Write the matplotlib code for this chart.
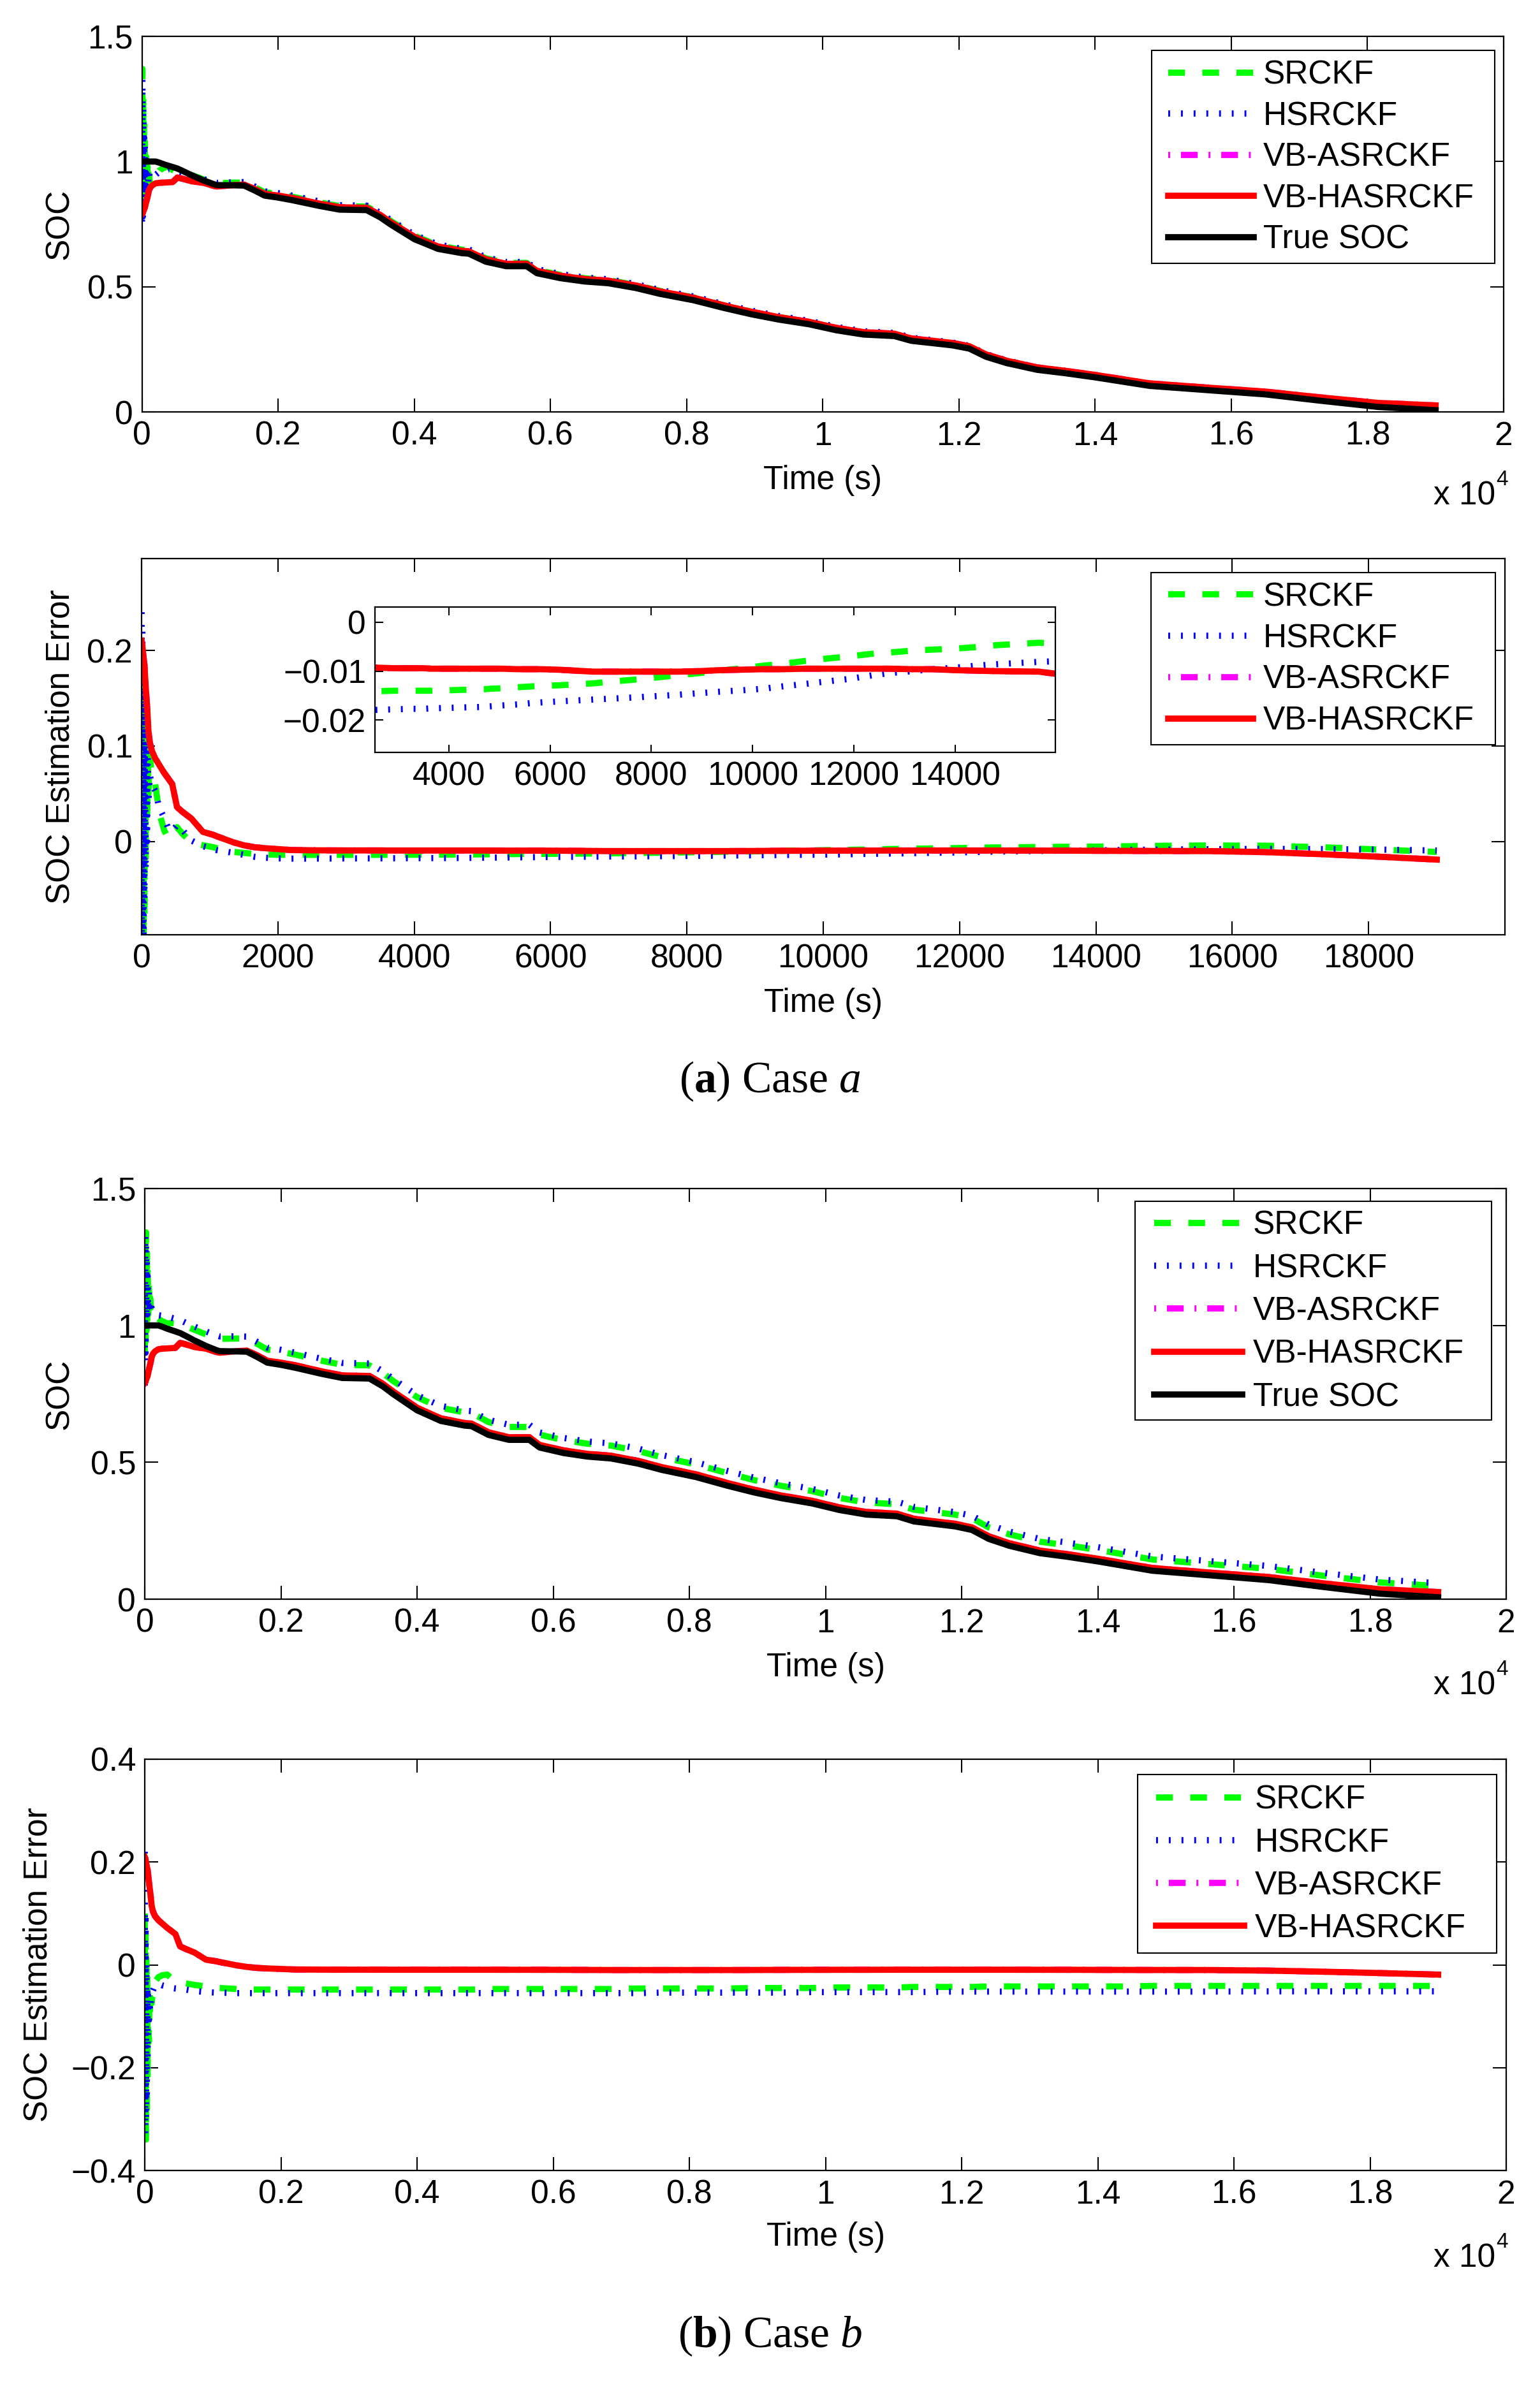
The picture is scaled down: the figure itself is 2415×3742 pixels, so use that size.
import matplotlib
matplotlib.use("Agg")
import matplotlib.pyplot as plt
from matplotlib.patches import Rectangle

plt.rcParams['font.family'] = ['Liberation Sans', 'DejaVu Sans']
plt.rcParams['mathtext.fontset'] = 'custom'
plt.rcParams['mathtext.rm'] = 'Liberation Serif'
plt.rcParams['mathtext.bf'] = 'Liberation Serif:bold'
plt.rcParams['mathtext.it'] = 'Liberation Serif:italic'

# ---------------- data ----------------
t = [0, 6, 12, 18, 24, 30, 36, 42, 50, 60,
     70, 80, 90, 100, 120, 150, 200, 260, 330, 390,
     450, 520, 600, 730, 900, 1050, 1100, 1350, 1500, 1650,
     1800, 2000, 2200, 2600, 2900, 3300, 3500, 3650, 4000, 4350,
     4700, 4800, 5050, 5350, 5650, 5800, 6150, 6500, 6850, 7250,
     7600, 8100, 8550, 8950, 9350, 9800, 10200, 10600, 11050, 11300,
     11900, 12150, 12400, 12700, 13150, 13550, 14000, 14400, 14800, 15650,
     16500, 17300, 18150, 19000]

soc_true = [1.000, 1.000, 1.000, 1.000, 1.000, 1.000, 1.000, 1.000, 1.000, 1.000,
            1.000, 1.000, 1.000, 1.000, 1.000, 1.000, 1.000, 0.995, 0.988, 0.983,
            0.978, 0.972, 0.962, 0.945, 0.925, 0.910, 0.906, 0.905, 0.904, 0.885,
            0.864, 0.856, 0.846, 0.823, 0.808, 0.806, 0.777, 0.749, 0.690, 0.651,
            0.634, 0.632, 0.600, 0.582, 0.582, 0.554, 0.534, 0.521, 0.514, 0.495,
            0.472, 0.446, 0.415, 0.390, 0.369, 0.350, 0.326, 0.309, 0.303, 0.284,
            0.266, 0.253, 0.220, 0.195, 0.168, 0.155, 0.138, 0.121, 0.104, 0.087,
            0.070, 0.045, 0.020, 0.007]

# VB-HASRCKF (same in both cases); VB-ASRCKF lies underneath it
soc_vbhasrckf = [0.790, 0.792, 0.795, 0.800, 0.804, 0.808, 0.812, 0.815, 0.825, 0.837,
                 0.848, 0.858, 0.870, 0.884, 0.896, 0.905, 0.913, 0.915, 0.916, 0.917,
                 0.918, 0.936, 0.931, 0.921, 0.915, 0.903, 0.9005, 0.906, 0.908, 0.891,
                 0.871, 0.864, 0.855, 0.8323, 0.8174, 0.8154, 0.7864, 0.7585, 0.6995, 0.6605,
                 0.6435, 0.6415, 0.6095, 0.5916, 0.5916, 0.5636, 0.5437, 0.5309, 0.5241, 0.5051,
                 0.4821, 0.4561, 0.4251, 0.4000, 0.3788, 0.3597, 0.3356, 0.3186, 0.3125, 0.2935,
                 0.2755, 0.2625, 0.2295, 0.2045, 0.1776, 0.1646, 0.1478, 0.1309, 0.1140, 0.0971,
                 0.0812, 0.0583, 0.0360, 0.0260]
err_vbhasrckf = [0.210, 0.208, 0.205, 0.200, 0.196, 0.192, 0.188, 0.185, 0.175, 0.163,
                 0.152, 0.142, 0.130, 0.116, 0.104, 0.095, 0.087, 0.080, 0.072, 0.066,
                 0.060, 0.036, 0.031, 0.024, 0.010, 0.007, 0.0055, -0.001, -0.004, -0.006,
                 -0.007, -0.008, -0.009, -0.0093, -0.0094, -0.0094, -0.0094, -0.0095, -0.0095, -0.0095,
                 -0.0095, -0.0095, -0.0095, -0.0096, -0.0096, -0.0096, -0.0097, -0.0099, -0.0101, -0.0101,
                 -0.0101, -0.0101, -0.0101, -0.0100, -0.0098, -0.0097, -0.0096, -0.0096, -0.0095, -0.0095,
                 -0.0095, -0.0095, -0.0095, -0.0095, -0.0096, -0.0096, -0.0098, -0.0099, -0.0100, -0.0101,
                 -0.0112, -0.0133, -0.0160, -0.0190]
soc_vbasrckf = soc_vbhasrckf
err_vbasrckf = err_vbhasrckf

# Case a
soc_srckf_a = [0.80, 1.37, 0.88, 1.25, 0.80, 1.15, 0.84, 1.08, 0.86, 1.02,
               0.87, 0.98, 0.89, 0.95, 0.91, 0.93, 0.94, 0.965, 0.976, 0.980,
               0.966, 0.957, 0.954, 0.946, 0.929, 0.916, 0.913, 0.916, 0.916, 0.898,
               0.8775, 0.870, 0.860, 0.8371, 0.822, 0.820, 0.791, 0.763, 0.7039, 0.6648,
               0.6477, 0.6456, 0.6135, 0.5953, 0.5951, 0.567, 0.5469, 0.5337, 0.5265, 0.5071,
               0.4838, 0.4573, 0.4258, 0.4004, 0.3789, 0.3594, 0.3349, 0.3175, 0.3109, 0.2916,
               0.2730, 0.2597, 0.2264, 0.2012, 0.1738, 0.1606, 0.1434, 0.1261, 0.1087, 0.0912,
               0.0745, 0.0510, 0.0285, 0.0180]
err_srckf_a = [0.20, -0.37, 0.12, -0.25, 0.20, -0.15, 0.16, -0.08, 0.14, -0.02,
               0.13, 0.02, 0.11, 0.05, 0.09, 0.07, 0.06, 0.03, 0.012, 0.003,
               0.012, 0.015, 0.008, -0.001, -0.004, -0.006, -0.007, -0.011, -0.012, -0.013,
               -0.0135, -0.014, -0.014, -0.0141, -0.0140, -0.0140, -0.0140, -0.0140, -0.0139, -0.0138,
               -0.0137, -0.0136, -0.0135, -0.0133, -0.0131, -0.0130, -0.0129, -0.0127, -0.0125, -0.0121,
               -0.0118, -0.0113, -0.0108, -0.0104, -0.0099, -0.0094, -0.0089, -0.0085, -0.0079, -0.0076,
               -0.0070, -0.0067, -0.0064, -0.0062, -0.0058, -0.0056, -0.0054, -0.0051, -0.0047, -0.0042,
               -0.0045, -0.0060, -0.0085, -0.0110]
soc_hsrckf_a = [0.76, 1.33, 0.78, 1.22, 0.82, 1.12, 0.85, 1.06, 0.88, 1.03,
                0.90, 1.00, 0.91, 0.96, 0.93, 0.94, 0.947, 0.960, 0.963, 0.969,
                0.967, 0.955, 0.950, 0.944, 0.930, 0.918, 0.915, 0.917, 0.918, 0.901,
                0.881, 0.8737, 0.864, 0.8409, 0.8258, 0.8237, 0.7947, 0.7666, 0.7075, 0.6684,
                0.6513, 0.6492, 0.6170, 0.5988, 0.5985, 0.5704, 0.5502, 0.5370, 0.5298, 0.5106,
                0.4874, 0.4611, 0.4298, 0.4045, 0.3832, 0.3639, 0.3396, 0.3221, 0.3156, 0.2963,
                0.2776, 0.2642, 0.2308, 0.2054, 0.1780, 0.1646, 0.1473, 0.1299, 0.1126, 0.0951,
                0.0778, 0.0530, 0.0285, 0.0165]
err_hsrckf_a = [0.24, -0.33, 0.22, -0.22, 0.18, -0.12, 0.15, -0.06, 0.12, -0.03,
                0.10, 0.00, 0.09, 0.04, 0.07, 0.06, 0.053, 0.035, 0.025, 0.014,
                0.011, 0.017, 0.012, 0.001, -0.005, -0.008, -0.009, -0.012, -0.014, -0.016,
                -0.017, -0.0177, -0.018, -0.0179, -0.0178, -0.0177, -0.0177, -0.0176, -0.0175, -0.0174,
                -0.0173, -0.0172, -0.0170, -0.0168, -0.0165, -0.0164, -0.0162, -0.0160, -0.0158, -0.0156,
                -0.0154, -0.0151, -0.0148, -0.0145, -0.0142, -0.0139, -0.0136, -0.0131, -0.0126, -0.0123,
                -0.0116, -0.0112, -0.0108, -0.0104, -0.0100, -0.0096, -0.0093, -0.0089, -0.0086, -0.0081,
                -0.0078, -0.0080, -0.0085, -0.0095]

# Case b
soc_srckf_b = [0.90, 1.30, 0.94, 1.34, 0.98, 1.30, 1.02, 1.22, 1.04, 1.15,
               1.05, 1.10, 1.065, 1.075, 1.05, 1.033, 1.024, 1.015, 1.007, 1.009,
               1.008, 1.006, 0.998, 0.984, 0.967, 0.954, 0.951, 0.952, 0.952, 0.933,
               0.912, 0.904, 0.894, 0.871, 0.856, 0.854, 0.825, 0.797, 0.738, 0.699,
               0.682, 0.680, 0.647, 0.629, 0.629, 0.601, 0.581, 0.568, 0.561, 0.541,
               0.518, 0.492, 0.461, 0.435, 0.414, 0.395, 0.370, 0.353, 0.347, 0.327,
               0.309, 0.296, 0.262, 0.237, 0.210, 0.197, 0.180, 0.163, 0.145, 0.128,
               0.111, 0.086, 0.061, 0.048]
err_srckf_b = [0.10, -0.30, 0.06, -0.34, 0.02, -0.30, -0.02, -0.22, -0.04, -0.15,
               -0.05, -0.10, -0.065, -0.075, -0.05, -0.033, -0.024, -0.020, -0.019, -0.026,
               -0.030, -0.034, -0.036, -0.039, -0.042, -0.044, -0.045, -0.047, -0.048, -0.048,
               -0.048, -0.048, -0.048, -0.048, -0.048, -0.048, -0.048, -0.048, -0.048, -0.048,
               -0.048, -0.048, -0.047, -0.047, -0.047, -0.047, -0.047, -0.047, -0.047, -0.046,
               -0.046, -0.046, -0.046, -0.045, -0.045, -0.045, -0.044, -0.044, -0.044, -0.043,
               -0.043, -0.043, -0.042, -0.042, -0.042, -0.042, -0.042, -0.042, -0.041, -0.041,
               -0.041, -0.041, -0.041, -0.041]
soc_hsrckf_b = [0.78, 1.33, 0.90, 1.30, 1.00, 1.25, 1.04, 1.18, 1.06, 1.12,
                1.07, 1.09, 1.07, 1.065, 1.05, 1.04, 1.037, 1.035, 1.030, 1.028,
                1.024, 1.019, 1.010, 0.996, 0.978, 0.964, 0.960, 0.960, 0.959, 0.940,
                0.919, 0.911, 0.901, 0.878, 0.863, 0.861, 0.832, 0.804, 0.745, 0.706,
                0.689, 0.687, 0.655, 0.637, 0.637, 0.609, 0.589, 0.576, 0.569, 0.550,
                0.526, 0.500, 0.469, 0.444, 0.423, 0.403, 0.379, 0.362, 0.356, 0.337,
                0.318, 0.305, 0.272, 0.247, 0.220, 0.207, 0.190, 0.173, 0.156, 0.139,
                0.1215, 0.0965, 0.0715, 0.0585]
err_hsrckf_b = [0.22, -0.33, 0.10, -0.30, 0.00, -0.25, -0.04, -0.18, -0.06, -0.12,
                -0.07, -0.09, -0.07, -0.065, -0.05, -0.04, -0.037, -0.040, -0.042, -0.045,
                -0.046, -0.047, -0.048, -0.051, -0.053, -0.054, -0.054, -0.055, -0.055, -0.055,
                -0.055, -0.055, -0.055, -0.055, -0.055, -0.055, -0.055, -0.055, -0.055, -0.055,
                -0.055, -0.055, -0.055, -0.055, -0.055, -0.055, -0.055, -0.055, -0.055, -0.055,
                -0.054, -0.054, -0.054, -0.054, -0.054, -0.053, -0.053, -0.053, -0.053, -0.053,
                -0.052, -0.052, -0.052, -0.052, -0.052, -0.052, -0.052, -0.052, -0.052, -0.052,
                -0.0515, -0.0515, -0.0515, -0.0515]

xticks_e4 = [0, 2000, 4000, 6000, 8000, 10000, 12000, 14000, 16000, 18000, 20000]
xticklabels_e4 = ['0', '0.2', '0.4', '0.6', '0.8', '1', '1.2', '1.4', '1.6', '1.8', '2']
xticks_s = [0, 2000, 4000, 6000, 8000, 10000, 12000, 14000, 16000, 18000]
xticklabels_s = ['0', '2000', '4000', '6000', '8000', '10000', '12000', '14000', '16000', '18000']
yticks_soc = [0, 0.5, 1, 1.5]
yticklabels_soc = ['0', '0.5', '1', '1.5']
yticks_err_a = [0, 0.1, 0.2]
yticklabels_err_a = ['0', '0.1', '0.2']
yticks_err_b = [-0.4, -0.2, 0, 0.2, 0.4]
yticklabels_err_b = ['\u22120.4', '\u22120.2', '0', '0.2', '0.4']
inset_xticks = [4000, 6000, 8000, 10000, 12000, 14000]
inset_xticklabels = ['4000', '6000', '8000', '10000', '12000', '14000']
inset_yticks = [-0.02, -0.01, 0]
inset_yticklabels = ['\u22120.02', '\u22120.01', '0']

# ---------------- figure ----------------
W, H = 2415, 3742
DPI = 100
fig = plt.figure(figsize=(W / DPI, H / DPI), dpi=DPI)
fig.patch.set_facecolor('white')

FS = 37
EM = FS * DPI / 72.0          # font size in pixels
ROWH = 0.94 * EM              # legend text row height in pixels
LW = 7.0

styles = {
    'SRCKF': dict(color='#00ff00', linestyle=(0, (2.7, 2.8)), lw=LW),
    'HSRCKF': dict(color='#0000ff', linestyle=(0, (0.3, 1.75)), lw=LW),
    'VB-ASRCKF': dict(color='#ff00ff', linestyle=(0, (0.3, 1.75, 2.7, 1.75)), lw=LW),
    'VB-HASRCKF': dict(color='#ff0000', linestyle='-', lw=LW),
    'True SOC': dict(color='black', linestyle='-', lw=LW),
}


def rect(left, top, right, bottom):
    return [left / W, 1 - bottom / H, (right - left) / W, (bottom - top) / H]


def style_ax(ax, ticklen=15):
    for s in ax.spines.values():
        s.set_linewidth(1.6)
    ax.tick_params(direction='in', top=True, right=True, length=ticklen, width=1.5,
                   labelsize=FS, pad=10)


def add_legend(ax, handles, labels, frame, line_x0, line_x1, text_x0, row1, spacing):
    fl, ft, fr, fb = frame
    box = Rectangle((fl / W, 1 - fb / H), (fr - fl) / W, (fb - ft) / H,
                    transform=fig.transFigure, facecolor='white', edgecolor='black',
                    linewidth=1.5, zorder=4.5)
    ax.add_artist(box)
    box.set_clip_on(False)
    leg = ax.legend(handles, labels, loc='upper left',
                    bbox_to_anchor=(line_x0 / W, 1 - (row1 - ROWH / 2) / H),
                    bbox_transform=fig.transFigure, borderaxespad=0, borderpad=0,
                    fontsize=FS, handlelength=(line_x1 - line_x0) / EM,
                    handletextpad=(text_x0 - line_x1) / EM,
                    labelspacing=(spacing - ROWH) / EM, frameon=False)
    return leg


def x10(ax_bottom, baseline_off):
    fig.text(2248 / W, 1 - (ax_bottom + baseline_off) / H, 'x 10', fontsize=FS,
             ha='left', va='baseline')
    fig.text(2346 / W, 1 - (ax_bottom + baseline_off - 31) / H, '4', fontsize=24,
             ha='left', va='baseline')


def soc_panel(box, ests, leg_args, ylabel_x):
    l, tp, r, b = box
    ax = fig.add_axes(rect(l, tp, r, b))
    handles = []
    for name, vals in ests:
        ln, = ax.plot(t, vals, **styles[name])
        handles.append(ln)
    ax.set_xlim(0, 20000)
    ax.set_ylim(0, 1.5)
    ax.set_xticks(xticks_e4, xticklabels_e4)
    ax.set_yticks(yticks_soc, yticklabels_soc)
    style_ax(ax)
    ax.set_xlabel('Time (s)', fontsize=FS, va='baseline')
    ax.xaxis.set_label_coords(0.5, -121 / (b - tp))
    ax.set_ylabel('SOC', fontsize=FS, va='baseline')
    ax.yaxis.set_label_coords(ylabel_x, 0.5)
    add_legend(ax, handles, [n for n, _ in ests], *leg_args)
    return ax


# Panel 1 : Case a SOC
soc_panel((222.7, 57, 2358, 646),
          [('SRCKF', soc_srckf_a), ('HSRCKF', soc_hsrckf_a), ('VB-ASRCKF', soc_vbasrckf),
           ('VB-HASRCKF', soc_vbhasrckf), ('True SOC', soc_true)],
          ((1805.6, 79, 2344, 413), 1832, 1965.5, 1980.6, 117.7, 63.8), -0.0542)
x10(646, 146)

# Panel 2 : Case a error
l, tp, r, b = 222, 875.5, 2360, 1466
ax2 = fig.add_axes(rect(l, tp, r, b))
errs_a = [('SRCKF', err_srckf_a), ('HSRCKF', err_hsrckf_a), ('VB-ASRCKF', err_vbasrckf),
          ('VB-HASRCKF', err_vbhasrckf)]
h2 = []
for name, vals in errs_a:
    ln, = ax2.plot(t, vals, **styles[name])
    h2.append(ln)
ax2.set_xlim(0, 20000)
ax2.set_ylim(-0.0977, 0.2965)
ax2.set_xticks(xticks_s, xticklabels_s)
ax2.set_yticks(yticks_err_a, yticklabels_err_a)
style_ax(ax2)
ax2.set_xlabel('Time (s)', fontsize=FS, va='baseline')
ax2.xaxis.set_label_coords(0.5, -121 / (b - tp))
ax2.set_ylabel('SOC Estimation Error', fontsize=FS, va='baseline')
ax2.yaxis.set_label_coords(-0.0533, 0.5)
add_legend(ax2, h2, [n for n, _ in errs_a], (1805, 898, 2345, 1168),
           1832, 1965, 1980.6, 936.3, 64.2)

# inset
axi = fig.add_axes(rect(588, 952, 1655, 1180))
for name, vals in errs_a:
    axi.plot(t, vals, **styles[name])
axi.set_xlim(2540, 15980)
axi.set_ylim(-0.0266, 0.0031)
axi.set_xticks(inset_xticks, inset_xticklabels)
axi.set_yticks(inset_yticks, inset_yticklabels)
style_ax(axi, ticklen=9)

# caption a
fig.text(1208 / W, 1 - 1713 / H, r'$(\mathbf{a})$ Case $\mathit{a}$', fontsize=50,
         family='Liberation Serif', ha='center', va='baseline')

# Panel 3 : Case b SOC
soc_panel((227, 1864, 2362, 2508),
          [('SRCKF', soc_srckf_b), ('HSRCKF', soc_hsrckf_b), ('VB-ASRCKF', soc_vbasrckf),
           ('VB-HASRCKF', soc_vbhasrckf), ('True SOC', soc_true)],
          ((1780, 1884, 2339, 2227), 1810, 1948, 1965, 1922, 66.6), -0.0562)
x10(2508, 150)

# Panel 4 : Case b error
l, tp, r, b = 227, 2759, 2362, 3404
ax4 = fig.add_axes(rect(l, tp, r, b))
errs_b = [('SRCKF', err_srckf_b), ('HSRCKF', err_hsrckf_b), ('VB-ASRCKF', err_vbasrckf),
          ('VB-HASRCKF', err_vbhasrckf)]
h4 = []
for name, vals in errs_b:
    ln, = ax4.plot(t, vals, **styles[name])
    h4.append(ln)
ax4.set_xlim(0, 20000)
ax4.set_ylim(-0.4, 0.4)
ax4.set_xticks(xticks_e4, xticklabels_e4)
ax4.set_yticks(yticks_err_b, yticklabels_err_b)
style_ax(ax4)
ax4.set_xlabel('Time (s)', fontsize=FS, va='baseline')
ax4.xaxis.set_label_coords(0.5, -118 / (b - tp))
ax4.set_ylabel('SOC Estimation Error', fontsize=FS, va='baseline')
ax4.yaxis.set_label_coords(-0.0721, 0.5)
add_legend(ax4, h4, [n for n, _ in errs_b], (1784, 2783, 2347, 3063),
           1813, 1950.6, 1968, 2823, 66.5)
x10(3404, 152)

# caption b
fig.text(1208 / W, 1 - 3681 / H, r'$(\mathbf{b})$ Case $\mathit{b}$', fontsize=50,
         family='Liberation Serif', ha='center', va='baseline')

fig.savefig('out.png', dpi=DPI, facecolor='white')
